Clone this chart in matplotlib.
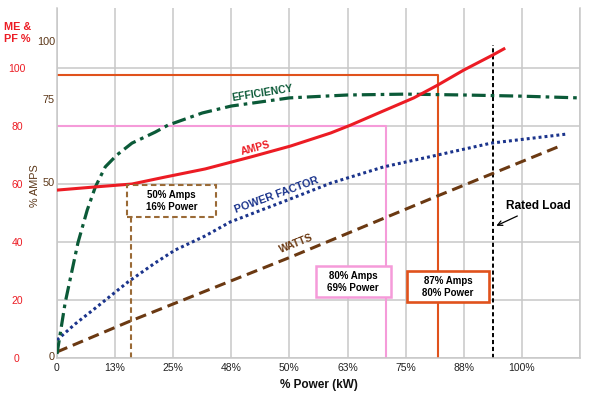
import matplotlib
matplotlib.use('Agg')
import matplotlib.pyplot as plt
import matplotlib.transforms as mtransforms
from matplotlib.patches import Rectangle

plt.rcParams['font.family'] = ['Liberation Sans', 'DejaVu Sans']
plt.rcParams['lines.scale_dashes'] = False

# x positions are grid steps (0..9), y is in % (left red scale)
x_labels = ['0', '13%', '25%', '48%', '50%', '63%', '75%', '88%', '100%', '']
y_red_ticks = [0, 20, 40, 60, 80, 100]
brown_labels = ['0', '50', '75', '100']
brown_label_pos = [0.3, 60.3, 89.0, 109.0]

eff_x = [0, 0.14, 0.36, 0.52, 0.66, 0.83, 1.03, 1.29, 1.69, 1.91, 2.5, 3.0, 4.0, 5.0, 6.0, 7.0, 8.0, 8.98]
eff_y = [1.4, 19.0, 39.7, 51.0, 59.0, 65.9, 70.0, 74.1, 77.9, 80.3, 84.5, 86.9, 89.7, 90.7, 91.0, 90.7, 90.3, 89.7]

amps_x = [0, 0.66, 1.29, 1.86, 2.55, 3.33, 4.02, 4.71, 5.05, 5.57, 6.14, 6.55, 7.0, 7.5, 7.69]
amps_y = [57.9, 59.0, 60.0, 62.4, 65.2, 69.3, 73.1, 77.6, 80.3, 84.8, 89.7, 94.1, 99.3, 104.5, 106.6]

pf_x = [0, 0.31, 0.66, 1.22, 1.69, 2.03, 2.55, 2.98, 3.97, 4.71, 5.62, 6.55, 7.47, 8.76]
pf_y = [6.2, 11.7, 17.2, 26.2, 32.8, 37.2, 42.1, 46.9, 54.5, 60.3, 65.9, 70.0, 74.1, 77.2]

watts_x = [0, 1.22, 4.02, 6.55, 8.62]
watts_y = [2.1, 12.4, 34.8, 55.9, 72.8]

# reference points: (x at vertical, y of horizontal)
ref16_x = 1.27
ref16_box = [1.21, 48.6, 2.74, 59.5]
ref69_x, ref69_y = 5.67, 80.0
ref69_box = [4.45, 21.0, 5.74, 31.7]
ref80_x, ref80_y = 6.55, 97.6
ref80_box = [6.03, 19.3, 7.43, 30.0]
rated_x, rated_top = 7.5, 107.9

RED = '#ec1c24'
GREEN = '#0b5a38'
NAVY = '#1b348c'
BROWN = '#6b3912'
BOXBROWN = '#9a6a36'
ORANGE = '#e0521c'
PINK = '#f59bd9'
TICKBROWN = '#5a3516'

fig = plt.figure(figsize=(5.89, 3.98), dpi=100)
ax = fig.add_axes([57/589, 40/398, 523/589, 350/398])
ax.set_xlim(0, 9)
ax.set_ylim(0, 120.7)

ax.set_xticks(range(10))
ax.set_xticklabels(x_labels, fontsize=7.5, color='#222222')
ax.set_yticks(y_red_ticks)
ax.set_yticklabels([str(v) for v in y_red_ticks], fontsize=7.5, color=RED)
for t in ax.get_yticklabels():
    t.set_horizontalalignment('center')
ax.tick_params(axis='y', length=0, pad=28.8)
ax.tick_params(axis='x', length=0, pad=3.5)
ax.grid(True, color='#c8c8c8', linewidth=1.1)
ax.set_axisbelow(True)
for s in ['left', 'bottom', 'right']:
    ax.spines[s].set_color('#c8c8c8')
    ax.spines[s].set_linewidth(1.1)
ax.spines['top'].set_visible(False)

# reference lines
ax.plot([0, ref80_x, ref80_x], [ref80_y, ref80_y, 0], color=ORANGE, lw=1.5, zorder=2)
ax.plot([0, ref69_x, ref69_x], [ref69_y, ref69_y, 0], color=PINK, lw=1.5, zorder=2)
ax.plot([ref16_x, ref16_x], [0, ref16_box[1]], color=BOXBROWN, lw=1.5,
        dashes=(4, 2.5), zorder=2)
ax.plot([rated_x, rated_x], [0, rated_top], color='black', lw=1.4,
        dashes=(3, 2), zorder=2)

# curves
ax.plot(watts_x, watts_y, color=BROWN, lw=2.2, dashes=(8, 4.3), zorder=3)
ax.plot(pf_x, pf_y, color=NAVY, lw=2.2, dashes=(2.1, 2.2),
        dash_capstyle='butt', zorder=3)
ax.plot(eff_x, eff_y, color=GREEN, lw=2.3, dashes=(10, 3.6, 2.6, 3.6), zorder=3)
ax.plot(amps_x, amps_y, color=RED, lw=2.2, zorder=3)

# boxes
def box(b, text, ec, lw, dashed=False):
    r = Rectangle((b[0], b[1]), b[2] - b[0], b[3] - b[1], facecolor='white',
                  edgecolor=ec, lw=lw, zorder=4)
    if dashed:
        r.set_linestyle((0, (4, 2.5)))
    ax.add_patch(r)
    ax.text((b[0] + b[2]) / 2, (b[1] + b[3]) / 2, text, ha='center', va='center',
            fontsize=7, fontweight='bold', color='black', zorder=5, linespacing=1.25)

box(ref16_box, '50% Amps\n16% Power', BOXBROWN, 1.5, dashed=True)
box(ref69_box, '80% Amps\n69% Power', PINK, 1.8)
box(ref80_box, '87% Amps\n80% Power', ORANGE, 1.9)

# curve labels
ax.text(3.53, 91.4, 'EFFICIENCY', color=GREEN, fontsize=7.5, fontweight='bold',
        rotation=9, ha='center', va='center')
ax.text(3.41, 72.4, 'AMPS', color=RED, fontsize=7.5, fontweight='bold',
        rotation=15, ha='center', va='center')
ax.text(3.78, 56.2, 'POWER FACTOR', color=NAVY, fontsize=7.8, fontweight='bold',
        rotation=20, ha='center', va='center')
ax.text(4.12, 39.3, 'WATTS', color=BROWN, fontsize=7.5, fontweight='bold',
        rotation=22, ha='center', va='center')

ax.annotate('Rated Load', xy=(7.56, 45.6), xytext=(8.29, 52.4), fontsize=8.6,
            fontweight='bold', ha='center', va='center',
            arrowprops=dict(arrowstyle='->', color='black', lw=0.9,
                            shrinkA=2, shrinkB=0))

# left-hand brown scale
trans = mtransforms.blended_transform_factory(ax.transAxes, ax.transData)
for lab, pos in zip(brown_labels, brown_label_pos):
    ax.text(-0.004, pos, lab, transform=trans, ha='right', va='center',
            fontsize=7.8, color=TICKBROWN)

fig.text(35/589, 1 - 186/398, '% AMPS', rotation=90, ha='center', va='center',
         fontsize=7.8, color=TICKBROWN)
fig.text(4/589, 1 - 33/398, 'ME &\nPF %', ha='left', va='center', fontsize=7.8,
         fontweight='bold', color=RED, linespacing=1.2)
fig.text(319/589, 1 - 385/398, '% Power (kW)', ha='center', va='center',
         fontsize=8.5, fontweight='bold', color='#111111')

fig.savefig('out.png', dpi=100)
